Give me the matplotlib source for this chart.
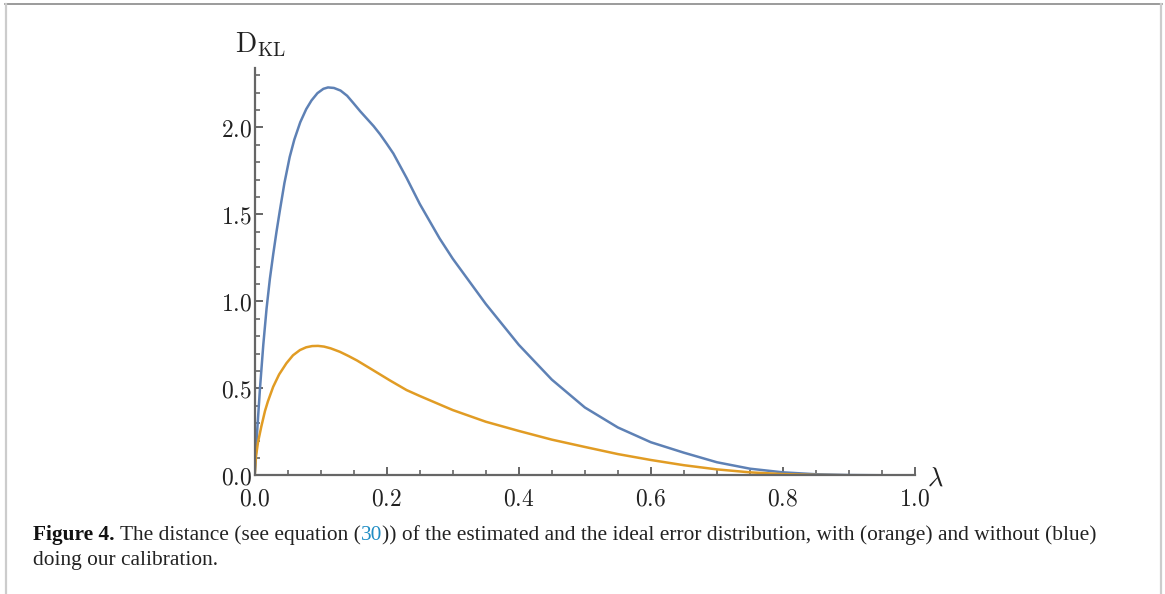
import matplotlib
matplotlib.use("Agg")
import matplotlib.pyplot as plt
from matplotlib.ticker import MultipleLocator, FixedLocator
from matplotlib.lines import Line2D

plt.rcParams['mathtext.fontset'] = 'cm'

# ---- data ----
lam_blue = [0.0, 0.004, 0.008, 0.013, 0.018, 0.023, 0.028, 0.033, 0.038, 0.045, 0.053,
            0.06, 0.069, 0.078, 0.086, 0.095, 0.104, 0.111, 0.12, 0.13, 0.14, 0.149,
            0.16, 0.17, 0.18, 0.19, 0.2, 0.21, 0.23, 0.25, 0.28, 0.3, 0.35, 0.4, 0.45,
            0.5, 0.55, 0.6, 0.65, 0.7, 0.75, 0.8, 0.85, 0.9, 0.95, 1.0]
kl_blue = [0.0, 0.27, 0.5, 0.75, 0.96, 1.13, 1.27, 1.4, 1.52, 1.68, 1.83,
           1.93, 2.03, 2.105, 2.155, 2.197, 2.222, 2.23, 2.227, 2.212, 2.182, 2.142,
           2.092, 2.05, 2.008, 1.96, 1.906, 1.85, 1.71, 1.56, 1.362, 1.245, 0.985, 0.75, 0.55,
           0.39, 0.275, 0.19, 0.13, 0.075, 0.038, 0.017, 0.006, 0.0015, 0.0002, 0.0]

lam_orange = [0.0, 0.002, 0.005, 0.01, 0.0156, 0.02, 0.028, 0.037, 0.048, 0.058, 0.0685,
              0.078, 0.087, 0.096, 0.105, 0.115, 0.129, 0.142, 0.155, 0.179, 0.205, 0.23,
              0.25, 0.3, 0.35, 0.4, 0.45, 0.5, 0.55, 0.6, 0.65, 0.7, 0.75, 0.8, 0.85,
              0.9, 1.0]
kl_orange = [0.0, 0.11, 0.19, 0.28, 0.37, 0.425, 0.509, 0.58, 0.644, 0.69, 0.72,
             0.736, 0.743, 0.744, 0.74, 0.73, 0.71, 0.686, 0.66, 0.605, 0.545, 0.49,
             0.456, 0.375, 0.308, 0.255, 0.205, 0.163, 0.122, 0.088, 0.058, 0.034, 0.017,
             0.007, 0.002, 0.0004, 0.0]

x_major = [0.0, 0.2, 0.4, 0.6, 0.8, 1.0]
y_major = [0.0, 0.5, 1.0, 1.5, 2.0]

BLUE = '#5e81b5'
ORANGE = '#e19c24'
AXC = '#666666'

fig = plt.figure(figsize=(11.65, 5.94), dpi=100)
W, H = 1165, 594

# page frame
fig.add_artist(Line2D([5 / W, 1162 / W], [1 - 4 / H, 1 - 4 / H], transform=fig.transFigure,
                      color='#8a8a8a', lw=1.2))
fig.add_artist(Line2D([6 / W, 6 / W], [0, 1 - 4 / H], transform=fig.transFigure,
                      color='#cccccc', lw=1.6))
fig.add_artist(Line2D([1161 / W, 1161 / W], [0, 1 - 4 / H], transform=fig.transFigure,
                      color='#cccccc', lw=1.6))

x0, x1 = 254.7, 915.0
ytop, ybot = 68.3, 475.3
ax = fig.add_axes([x0 / W, 1 - ybot / H, (x1 - x0) / W, (ybot - ytop) / H])
ax.set_xlim(0, 1.0)
ax.set_ylim(0, 2.34)

ax.plot(lam_blue, kl_blue, color=BLUE, lw=1.8, solid_capstyle='round',
        solid_joinstyle='round', zorder=3)
ax.plot(lam_orange, kl_orange, color=ORANGE, lw=1.8, solid_capstyle='round',
        solid_joinstyle='round', zorder=3)

for s in ['top', 'right']:
    ax.spines[s].set_visible(False)
for s in ['left', 'bottom']:
    ax.spines[s].set_color(AXC)
    ax.spines[s].set_linewidth(1.6)
    ax.spines[s].set_zorder(4)

ax.xaxis.set_major_locator(FixedLocator(x_major))
ax.yaxis.set_major_locator(FixedLocator(y_major))
ax.xaxis.set_minor_locator(MultipleLocator(0.05))
ax.yaxis.set_minor_locator(MultipleLocator(0.1))
ax.set_xticklabels(['$%.1f$' % v for v in x_major])
ax.set_yticklabels(['$%.1f$' % v for v in y_major])
ax.tick_params(which='major', direction='in', length=6, width=1.4, color=AXC,
               labelsize=17, labelcolor='#222222')
ax.tick_params(which='minor', direction='in', length=3.5, width=1.2, color=AXC)
ax.tick_params(axis='x', which='major', pad=8)
ax.tick_params(axis='y', which='major', pad=2)

ax.text(-0.03, 1.04, r'$\mathrm{D}_{\mathrm{KL}}$', transform=ax.transAxes,
        fontsize=20, ha='left', va='baseline', color='#222222')
ax.text(1.018, -0.008, r'$\lambda$', transform=ax.transAxes,
        fontsize=19, ha='left', va='center', color='#222222')

# caption with mixed styles
fig.canvas.draw()
renderer = fig.canvas.get_renderer()
fs = 15.4
fam = 'Liberation Serif'
pieces1 = [("Figure 4.", 'bold', '#111111'),
           (" The distance (see equation (", 'normal', '#222222'),
           ("30", 'normal', '#1f8dc4'),
           (")) of the estimated and the ideal error distribution, with (orange) and without (blue)",
            'normal', '#222222')]
xpix = 33
ypix1 = 540
for txt, wt, col in pieces1:
    t = fig.text(xpix / W, 1 - ypix1 / H, txt, fontsize=fs, family=fam, weight=wt,
                 color=col, ha='left', va='baseline')
    bb = t.get_window_extent(renderer=renderer)
    xpix += bb.width
fig.text(33 / W, 1 - 565 / H, "doing our calibration.", fontsize=fs, family=fam,
         color='#222222', ha='left', va='baseline')

fig.savefig('out.png', dpi=100, facecolor='white')
